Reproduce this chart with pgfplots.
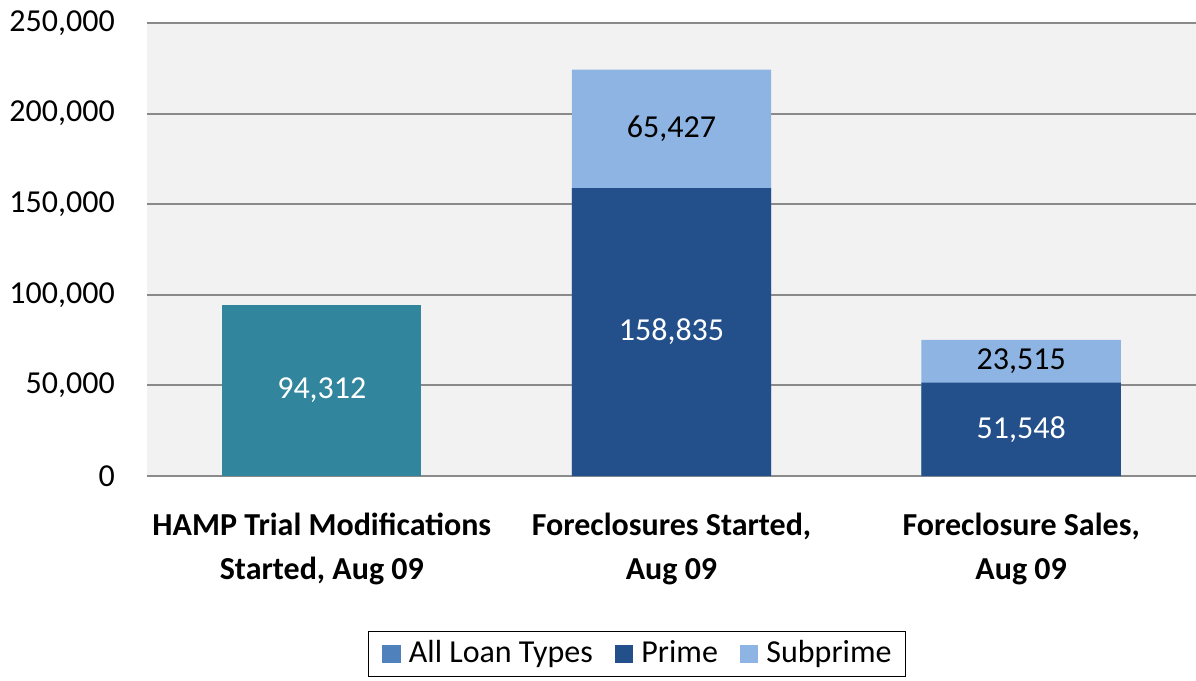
\documentclass[border=0pt]{standalone}
\usepackage{pgfplots}
\pgfplotsset{compat=1.18}
\usepackage{fontspec}
\setmainfont{Carlito}
\definecolor{hampc}{HTML}{31859C}
\definecolor{primec}{HTML}{23508A}
\definecolor{subc}{HTML}{8DB4E3}
\definecolor{allc}{HTML}{4F81BD}
\definecolor{gridc}{HTML}{8A8A8A}
\definecolor{bgc}{HTML}{F2F2F2}
\begin{document}
\fontsize{32}{44}\selectfont
\begin{tikzpicture}
\begin{axis}[
  scale only axis, width=1049pt, height=453pt,
  xmin=-0.5, xmax=2.5, ymin=0, ymax=250000,
  axis background/.style={fill=bgc},
  axis line style={draw=none},
  ytick={0,50000,100000,150000,200000,250000},
  yticklabels={0,{50,000},{100,000},{150,000},{200,000},{250,000}},
  ymajorgrids, grid style={gridc, line width=2pt},
  major tick length=0pt,
  xtick={0,1,2},
  xticklabels={{HAMP Trial Modifications\\Started, Aug 09},{Foreclosures Started,\\Aug 09},{Foreclosure Sales,\\Aug 09}},
  xticklabel style={align=center, font=\bfseries\fontsize{32}{44}\selectfont, inner sep=0pt, anchor=north, yshift=-37pt},
  yticklabel style={font=\fontsize{32}{44}\selectfont, inner sep=0pt, anchor=east, xshift=-32pt},
  scaled y ticks=false,
  legend columns=3,
  legend style={at={(0.4671,-0.393)}, anchor=center, draw=black, line width=1.5pt,
    font=\fontsize{32}{40}\selectfont,
    inner xsep=14pt, inner ysep=6pt,
    nodes={inner xsep=0pt, inner ysep=3pt},
    /tikz/every odd column/.append style={column sep=8pt},
    /tikz/every even column/.append style={column sep=22pt}},
]
% bars (no stacking: totals drawn first, prime over them)
\addplot[ybar, bar width=0.57, bar shift=0pt, fill=subc, draw=none, forget plot]
  coordinates {(1,224262) (2,75063)};
\addplot[ybar, bar width=0.57, bar shift=0pt, fill=primec, draw=none, forget plot]
  coordinates {(1,158835) (2,51548)};
\addplot[ybar, bar width=0.57, bar shift=0pt, fill=hampc, draw=none, forget plot]
  coordinates {(0,94312)};
% labels
\addplot[only marks, mark=none, forget plot, point meta=explicit symbolic,
  nodes near coords, nodes near coords style={anchor=center, text=white, font=\fontsize{32}{40}\selectfont}]
  coordinates {(0,47156) [94{,}312] (1,79418) [158{,}835] (2,25774) [51{,}548]};
\addplot[only marks, mark=none, forget plot, point meta=explicit symbolic,
  nodes near coords, nodes near coords style={anchor=center, text=black, font=\fontsize{32}{40}\selectfont}]
  coordinates {(1,191549) [65{,}427] (2,63306) [23{,}515]};
% legend
\addlegendimage{legend image code/.code={\fill[allc] (0pt,-8.5pt) rectangle (17pt,8.5pt);}}
\addlegendentry{All Loan Types}
\addlegendimage{legend image code/.code={\fill[primec] (0pt,-8.5pt) rectangle (17pt,8.5pt);}}
\addlegendentry{Prime}
\addlegendimage{legend image code/.code={\fill[subc] (0pt,-8.5pt) rectangle (17pt,8.5pt);}}
\addlegendentry{Subprime}
\coordinate (sw) at (rel axis cs:0,0);
\end{axis}
\pgfresetboundingbox
\path[use as bounding box] (sw) ++(-147pt,-204pt) rectangle ++(1196pt,680pt);
\end{tikzpicture}
\end{document}
